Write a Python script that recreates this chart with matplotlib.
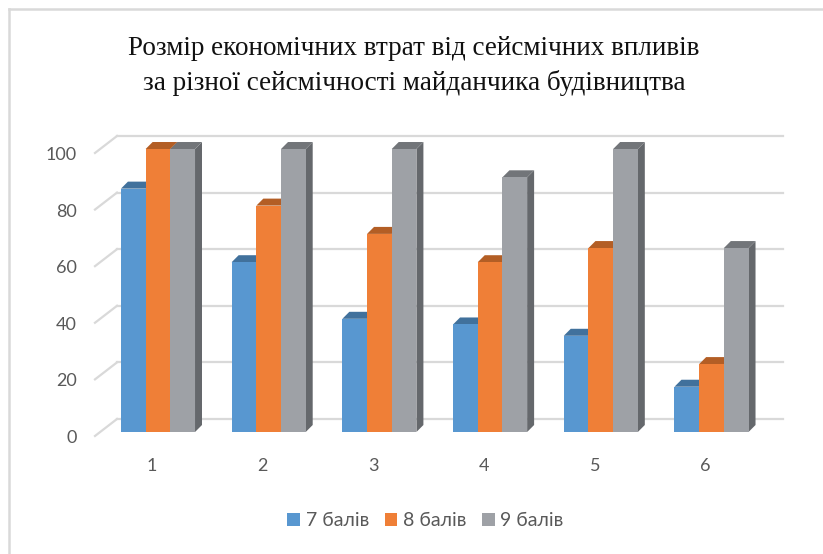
import matplotlib.pyplot as plt
from matplotlib.patches import Polygon, Patch
from matplotlib.lines import Line2D
import matplotlib.transforms as mtransforms

TITLE = 'Розмір економічних втрат від сейсмічних впливів\nза різної сейсмічності майданчика будівництва'
CATEGORIES = [1, 2, 3, 4, 5, 6]
SERIES_NAMES = ['7 балів', '8 балів', '9 балів']
VALUES_7 = [86, 60, 40, 38, 34, 16]
VALUES_8 = [100, 80, 70, 60, 65, 24]
VALUES_9 = [100, 100, 100, 90, 100, 65]
Y_TICKS = [0, 20, 40, 60, 80, 100]

FRONT_COLORS = ['#5897D0', '#EF7F37', '#9EA1A6']
TOP_COLORS = ['#41719C', '#B35E25', '#727579']
SIDE_COLORS = ['#3F6E98', '#AE5A21', '#65686C']
GRID_COLOR = '#D9D9D9'
TEXT_COLOR = '#595959'

BAR_W = 0.223
DEPTH_X = 0.063   # bar depth in data units (x)
DEPTH_Y = 2.47    # bar depth in data units (y)
WALL_X = 0.199    # back wall offset
WALL_Y = 4.6
FRONT_Y = -1.4    # front edge of floor


def draw_bar(ax, x0, h, i):
    x1 = x0 + BAR_W
    side = Polygon([(x1, 0), (x1 + DEPTH_X, DEPTH_Y), (x1 + DEPTH_X, h + DEPTH_Y), (x1, h)],
                   closed=True, facecolor=SIDE_COLORS[i], edgecolor='none', clip_on=False, zorder=3)
    top = Polygon([(x0, h), (x0 + DEPTH_X, h + DEPTH_Y), (x1 + DEPTH_X, h + DEPTH_Y), (x1, h)],
                  closed=True, facecolor=TOP_COLORS[i], edgecolor='none', clip_on=False, zorder=3)
    ax.add_patch(side)
    ax.add_patch(top)
    ax.bar(x0, h, width=BAR_W, align='edge', color=FRONT_COLORS[i], zorder=3, clip_on=False)


def main():
    fig = plt.figure(figsize=(8.23, 5.54), dpi=100)
    ax = fig.add_axes([95 / 823, 122 / 554, 666 / 823, 283 / 554])
    ax.set_xlim(0.431, 6.447)
    ax.set_ylim(0, 100)
    for s in ax.spines.values():
        s.set_visible(False)

    x_lo, x_hi = ax.get_xlim()
    # back wall gridlines + diagonals on the side wall
    for v in Y_TICKS:
        ax.plot([x_lo + WALL_X, x_hi + WALL_X], [v + WALL_Y, v + WALL_Y], color=GRID_COLOR,
                lw=1.6, clip_on=False, zorder=1)
        ax.plot([x_lo, x_lo + WALL_X], [v + FRONT_Y, v + WALL_Y], color=GRID_COLOR,
                lw=1.6, clip_on=False, zorder=1)

    series = [VALUES_7, VALUES_8, VALUES_9]
    for k, c in enumerate(CATEGORIES):
        for i, vals in enumerate(series):
            x0 = c - 1.5 * BAR_W + i * BAR_W
            draw_bar(ax, x0, vals[k], i)

    ax.set_yticks(Y_TICKS)
    ax.set_xticks(CATEGORIES)
    ax.set_xticklabels([str(c) for c in CATEGORIES])
    ax.tick_params(axis='y', length=0, pad=13, labelsize=13, labelcolor=TEXT_COLOR)
    ax.tick_params(axis='x', length=0, pad=19, labelsize=13, labelcolor=TEXT_COLOR)
    for lab in ax.get_yticklabels():
        lab.set_fontfamily('Lato')
        lab.set_transform(lab.get_transform() + mtransforms.Affine2D().translate(0, -4.5))
    for lab in ax.get_xticklabels():
        lab.set_fontfamily('Lato')
        lab.set_transform(lab.get_transform() + mtransforms.Affine2D().translate(-6, 0))

    fig.text(0.503, 0.881, TITLE, ha='center', va='center', fontsize=19.5,
             family='Liberation Serif', color='#111111', linespacing=1.42)

    handles = [Patch(facecolor=FRONT_COLORS[i], edgecolor='none') for i in range(3)]
    fig.legend(handles, SERIES_NAMES, loc='center', bbox_to_anchor=(0.517, 0.06), ncol=3,
               frameon=False, handlelength=0.65, handleheight=0.65, handletextpad=0.3,
               columnspacing=0.8, prop={'family': 'Lato', 'size': 14}, labelcolor=TEXT_COLOR)

    # chart border (top and left edges visible)
    fig.add_artist(Line2D([8.5 / 823, 8.5 / 823], [0, 1 - 8.5 / 554], color=GRID_COLOR, lw=1.8))
    fig.add_artist(Line2D([8.5 / 823, 1], [1 - 8.5 / 554, 1 - 8.5 / 554], color=GRID_COLOR, lw=1.8))

    fig.savefig('out.png', dpi=100)


if __name__ == "__main__":
    main()
